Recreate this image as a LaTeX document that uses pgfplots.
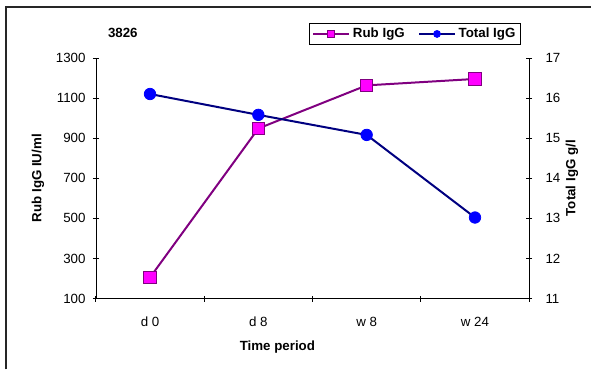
\documentclass[border=0pt]{standalone}
\usepackage{pgfplots}
\pgfplotsset{compat=1.18}
\usepackage{fontspec}
\setmainfont{Liberation Sans}
\definecolor{rubline}{HTML}{800080}
\definecolor{rubfill}{HTML}{FF00FF}
\definecolor{totline}{HTML}{000080}
\definecolor{totfill}{HTML}{0000FF}
\begin{document}
\begin{tikzpicture}[x=0.75pt,y=0.75pt]
\path (0,0) rectangle (592,370);
\draw[line width=1.4pt, black!85] (6,0) -- (6,363) -- (592,363);
\pgfplotsset{
  every axis/.append style={
    /pgf/number format/assume math mode=true,
    /pgf/number format/1000 sep={},
    font=\fontsize{10}{12}\selectfont,
    scale only axis, width=325.5pt, height=180.75pt,
    at={(72pt,53.25pt)}, anchor=south west,
    xmin=-0.5, xmax=3.5,
    tick align=center, major tick length=4.5pt, minor tick length=4.5pt,
    axis line style={-, black},
    tick style={black, line width=0.6pt},
  },
  rubstyle/.style={rubline, line width=1.5pt, mark=square*, mark size=4.6pt,
    mark options={fill=rubfill, draw=rubline, line width=0.6pt, solid}},
  totstyle/.style={totline, line width=1.5pt, mark=*, mark size=4.3pt,
    mark options={fill=totfill, draw=totfill, line width=0.6pt, solid}},
}
\begin{axis}[
  axis y line*=left, axis x line*=bottom,
  ymin=100, ymax=1300, ytick={100,300,...,1300},
  xtick={0,1,2,3}, xticklabels={d 0, d 8, w 8, w 24},
  minor xtick={-0.5,0.5,1.5,2.5,3.5},
  major x tick style={draw=none},
  xticklabel style={yshift=-8pt},
  yticklabel style={xshift=-2pt},
  xlabel={\bfseries Time period},
  xlabel style={at={(axis description cs:0.419,-0.203)}, anchor=center},
  ylabel={\bfseries Rub IgG IU/ml},
  ylabel style={at={(axis description cs:-0.1336,0.5)}, anchor=center},
]
\addplot[rubstyle] coordinates {(0,205) (1,948) (2,1163) (3,1195)};
\end{axis}
\begin{axis}[
  axis y line*=right, axis x line=none,
  ymin=11, ymax=17, ytick={11,12,...,17},
  yticklabel style={xshift=6.5pt},
  ylabel={\bfseries Total IgG g/l},
  ylabel style={at={(axis description cs:1.099,0.5)}, anchor=center},
  legend columns=2,
  legend style={at={(axis description cs:0.737,1.0996)}, anchor=center,
    draw=black, line width=0.6pt, font=\fontsize{10}{12}\selectfont\bfseries,
    inner xsep=2pt, inner ysep=1.5pt,
    /tikz/every even column/.append style={column sep=8pt}},
  legend image code/.code={\draw[#1, mark size=2.6pt, mark repeat=2, mark phase=2]
    plot coordinates {(0pt,0pt) (13.5pt,0pt) (27pt,0pt)};},
]
\addlegendimage{rubstyle}
\addlegendentry{Rub IgG}
\addplot[totstyle] coordinates {(0,16.1) (1,15.58) (2,15.08) (3,13.02)};
\addlegendentry{Total IgG}
\end{axis}
\node[font=\fontsize{10}{12}\selectfont\bfseries] at (123,337.5) {3826};
\end{tikzpicture}
\end{document}
